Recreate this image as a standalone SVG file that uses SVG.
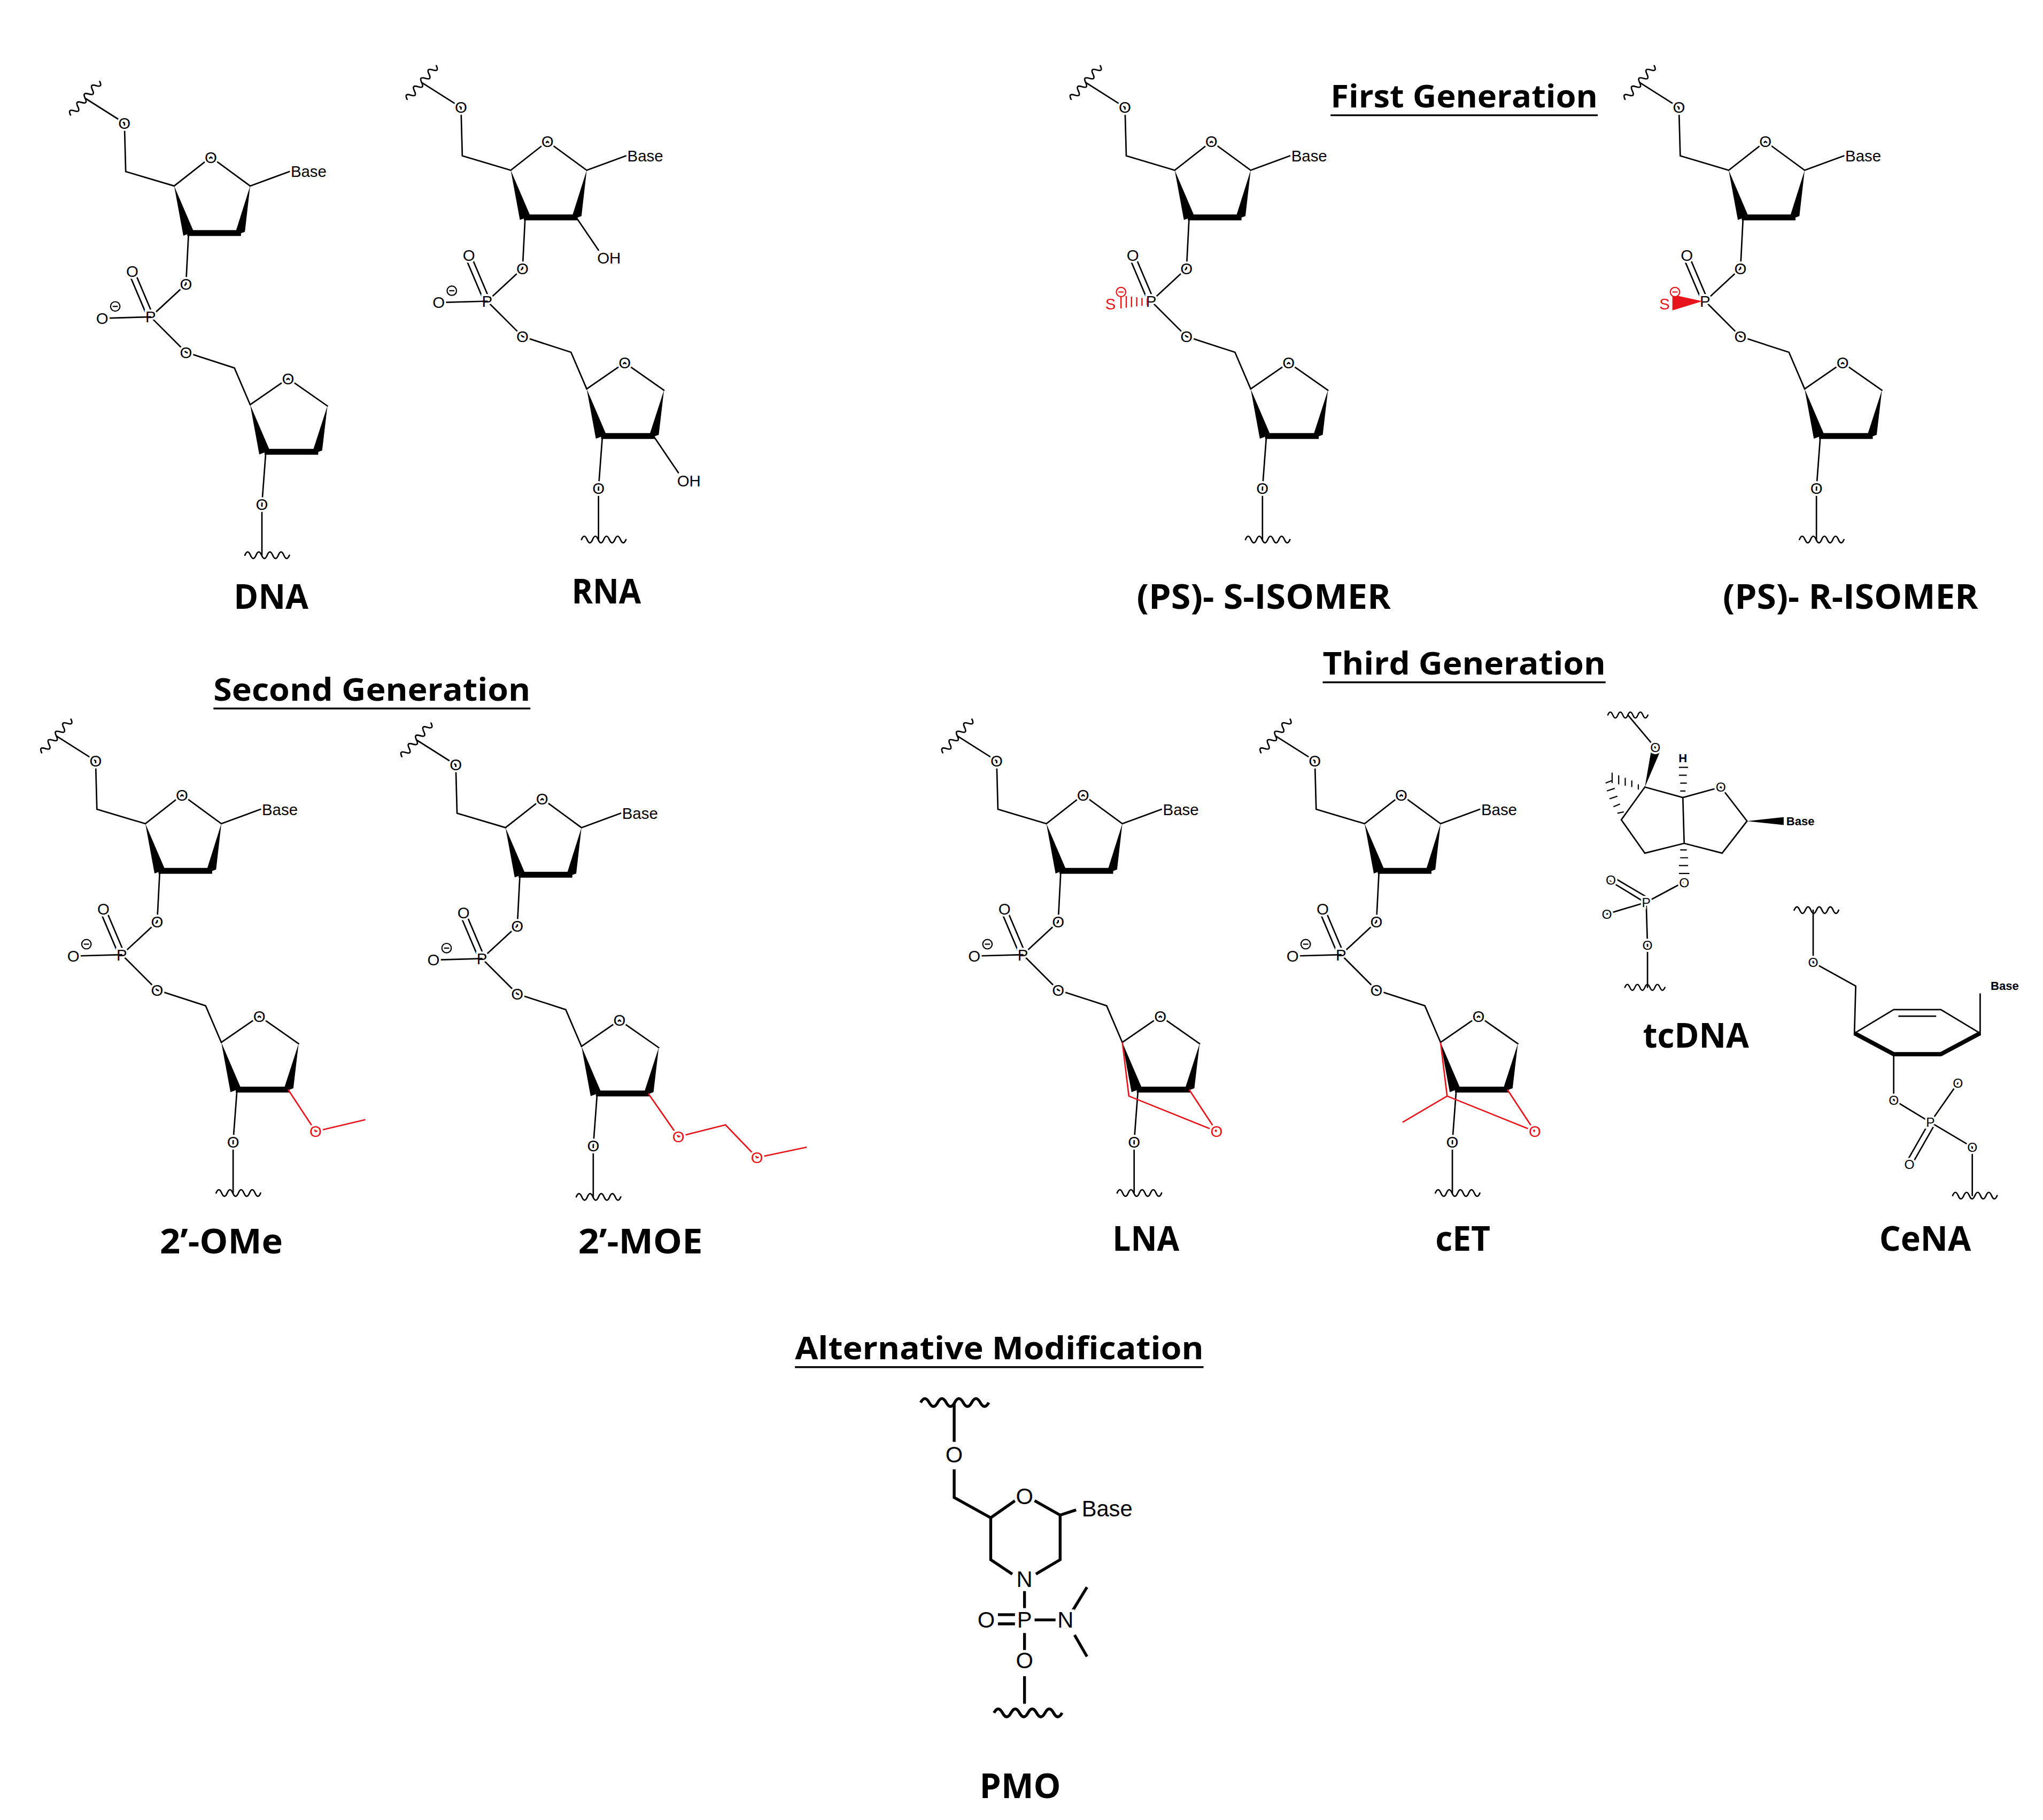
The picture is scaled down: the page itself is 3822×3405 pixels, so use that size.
<svg xmlns="http://www.w3.org/2000/svg" xmlns:xlink="http://www.w3.org/1999/xlink" width="3822" height="3405" viewBox="0 0 3822 3405">
<style>
.b{stroke:#000;stroke-width:1.1;fill:none;stroke-linecap:round}
.bb{stroke:#000;stroke-width:4.5;fill:none}
.w{fill:#000;stroke:none}
.r{stroke:#e8141b;stroke-width:1.1;fill:none}
.a{font-family:"Liberation Sans",Arial,sans-serif;font-size:12px;text-anchor:middle;dominant-baseline:central;fill:#000;stroke:#fff;stroke-width:3;paint-order:stroke}
.ar{fill:#e8141b}
.lb{font-family:"Open Sans","Liberation Sans",sans-serif;font-weight:bold;font-size:26px;text-anchor:middle;fill:#000}
.h{font-family:"Open Sans","Liberation Sans",sans-serif;font-weight:bold;font-size:24px;text-anchor:middle;fill:#000}
.u{stroke:#000;stroke-width:1.4}
.p{font-family:"Liberation Sans",Arial,sans-serif;font-size:17px;text-anchor:middle;dominant-baseline:central;fill:#000;stroke:#fff;stroke-width:4;paint-order:stroke}
.pb{stroke:#000;stroke-width:2.2;fill:none}
</style>
<defs>
<path id="wv" d="M-17,0 q2.1,-5 4.25,0 t4.25,0 t4.25,0 t4.25,0 t4.25,0 t4.25,0 t4.25,0 t4.25,0" class="b"/>
<g id="top">
<use xlink:href="#wv" transform="translate(65,75) rotate(-49)"/>
<path class="b" d="M65,75 L95,94 L96,131 L133,142 L161,120 L191,142 L221,131 M144,178 L142,217"/>
<polygon class="w" points="133,142 140,180 148,177"/>
<line class="bb" x1="143" y1="178" x2="184" y2="178"/>
<polygon class="w" points="179,180 187,177 191,142"/>
<text class="a" x="95" y="94">O</text><text class="a" x="161" y="120">O</text>
<text class="a" x="222" y="131" style="text-anchor:start">Base</text>
</g>
<g id="phos">
<path class="b" d="M142,217 L115,242 L142,269 L179,281 L191,309 M113,243 L99,210 M117,241 L103,208"/>
<text class="a" x="142" y="217">O</text><text class="a" x="115" y="242">P</text>
<text class="a" x="101" y="207">O</text><text class="a" x="142" y="269">O</text>
</g>
<g id="om">
<line class="b" x1="115" y1="242" x2="80" y2="243"/>
<text class="a" x="78" y="243">O</text>
<circle cx="88" cy="234" r="3.6" fill="#fff" stroke="#000" stroke-width="0.9"/><line x1="86" y1="234" x2="90" y2="234" stroke="#000" stroke-width="0.9"/>
</g>
<g id="bot">
<path class="b" d="M191,309 L220,289 L250,310 M203,345 L200,385 L200,424"/>
<polygon class="w" points="191,309 198,347 206,344"/>
<line class="bb" x1="202" y1="345" x2="243" y2="345"/>
<polygon class="w" points="238,347 246,344 250,310"/>
<use xlink:href="#wv" transform="translate(204,424)"/>
<text class="a" x="220" y="289">O</text><text class="a" x="200" y="385">O</text>
</g>
</defs>
<rect width="3822" height="3405" fill="#fff"/>
<g transform="scale(2.45)">
<g id="headers">
<text class="h" x="1118" y="82" textLength="204" lengthAdjust="spacingAndGlyphs">First Generation</text><line class="u" x1="1016" y1="88" x2="1220" y2="88"/>
<text class="h" x="284" y="535" textLength="242" lengthAdjust="spacingAndGlyphs">Second Generation</text><line class="u" x1="163" y1="541" x2="405" y2="541"/>
<text class="h" x="1118" y="515" textLength="216" lengthAdjust="spacingAndGlyphs">Third Generation</text><line class="u" x1="1010" y1="521" x2="1226" y2="521"/>
<text class="h" x="763" y="1038" textLength="312" lengthAdjust="spacingAndGlyphs">Alternative Modification</text><line class="u" x1="607" y1="1044" x2="919" y2="1044"/>
</g>
<g id="dna"><use xlink:href="#top"/><use xlink:href="#phos"/><use xlink:href="#om"/><use xlink:href="#bot"/>
<text class="lb" x="207" y="465" textLength="57" lengthAdjust="spacingAndGlyphs">DNA</text></g>
<g id="rna"><g transform="translate(257,-12)"><use xlink:href="#top"/><use xlink:href="#phos"/><use xlink:href="#om"/><use xlink:href="#bot"/>
<path class="b" d="M183,178 L200,203 M242,345 L261,373"/>
<text class="a" x="208" y="209">OH</text><text class="a" x="269" y="379">OH</text></g>
<text class="lb" x="463" y="461" textLength="53" lengthAdjust="spacingAndGlyphs">RNA</text></g>
<g id="ps-s"><g transform="translate(764,-12)"><use xlink:href="#top"/><use xlink:href="#phos"/><use xlink:href="#bot"/>
<path stroke="#e8141b" stroke-width="1" d="M112,240 L112,245 M108,239.5 L108,245.5 M104,239 L104,246 M100,238.5 L100,246.5 M96,238 L96,247 M92,237.5 L92,247.5"/>
<text class="a ar" x="84" y="244">S</text>
<circle cx="92" cy="235" r="3.6" fill="#fff" stroke="#e8141b" stroke-width="0.9"/><line x1="90" y1="235" x2="94" y2="235" stroke="#e8141b" stroke-width="0.9"/></g>
<text class="lb" x="965" y="465" textLength="194" lengthAdjust="spacingAndGlyphs">(PS)- S-ISOMER</text></g>
<g id="ps-r"><g transform="translate(1187,-12)"><use xlink:href="#top"/><use xlink:href="#phos"/><use xlink:href="#bot"/>
<polygon fill="#e8141b" points="113,242 90,237 90,249"/>
<text class="a ar" x="84" y="244">S</text>
<circle cx="92" cy="235" r="3.6" fill="#fff" stroke="#e8141b" stroke-width="0.9"/><line x1="90" y1="235" x2="94" y2="235" stroke="#e8141b" stroke-width="0.9"/></g>
<text class="lb" x="1413" y="465" textLength="195" lengthAdjust="spacingAndGlyphs">(PS)- R-ISOMER</text></g>
<g id="ome"><g transform="translate(-22,487)"><use xlink:href="#top"/><use xlink:href="#phos"/><use xlink:href="#om"/><use xlink:href="#bot"/>
<path class="r" d="M242,345 L263,377 L301,368"/><text class="a ar" x="263" y="377">O</text></g>
<text class="lb" x="169" y="957" textLength="94" lengthAdjust="spacingAndGlyphs">2’-OMe</text></g>
<g id="moe"><g transform="translate(253,490)"><use xlink:href="#top"/><use xlink:href="#phos"/><use xlink:href="#om"/><use xlink:href="#bot"/>
<path class="r" d="M242,345 L265,378 L301,369 L325,394 L363,386"/><text class="a ar" x="265" y="378">O</text><text class="a ar" x="325" y="394">O</text></g>
<text class="lb" x="489" y="957" textLength="95" lengthAdjust="spacingAndGlyphs">2’-MOE</text></g>
<g id="lna"><g transform="translate(666,487)"><use xlink:href="#top"/><use xlink:href="#phos"/><use xlink:href="#om"/><use xlink:href="#bot"/>
<path class="r" d="M191,309 L196,350 L263,377 M242,345 L263,377"/><text class="a ar" x="263" y="377">O</text></g>
<text class="lb" x="875" y="955" textLength="51" lengthAdjust="spacingAndGlyphs">LNA</text></g>
<g id="cet"><g transform="translate(909,487)"><use xlink:href="#top"/><use xlink:href="#phos"/><use xlink:href="#om"/><use xlink:href="#bot"/>
<path class="r" d="M191,309 L196,350 L263,377 M242,345 L263,377 M196,350 L162,370"/><text class="a ar" x="263" y="377">O</text></g>
<text class="lb" x="1117" y="955" textLength="42" lengthAdjust="spacingAndGlyphs">cET</text></g>
<g id="tcdna">
<use xlink:href="#wv" transform="translate(1243,546) scale(0.9)"/>
<path class="b" d="M1243,546 L1264,571 M1256,601 L1238,626 L1256,651.5 L1286,644 L1315,651.5 L1334,627 L1314,601 L1285,609 L1256,601 M1285,609 L1286,644 M1285,674 L1257,689 L1227,698 M1257,689 L1258,722 L1258,754 M1256,689 L1228,672 M1259,686 L1232,670"/>
<polygon class="w" points="1256,601 1261,572 1268,573"/>
<polygon class="w" points="1334,627 1362,624 1362,630"/>
<path stroke="#000" stroke-width="0.9" d="M1251,599 L1251,603 M1246,596 L1246,601 M1241,594 L1241,600 M1236,592 L1236,599 M1231,590 L1231,598 M1240,620 L1235,621 M1237,614 L1232,616 M1235,608 L1229,610 M1233,602 L1227,604 M1231,596 L1226,598 M1283,604 L1287,604 M1283,598 L1288,598 M1282,592 L1288,592 M1282,586 L1289,586 M1283,649 L1288,649 M1283,655 L1289,655 M1282,661 L1289,661 M1282,667 L1290,667"/>
<use xlink:href="#wv" transform="translate(1256,754) scale(0.9)"/>
<text class="a" x="1264" y="571" style="font-size:10px">O</text>
<text class="a" x="1285" y="579" style="font-size:9px;font-weight:bold">H</text>
<text class="a" x="1314" y="601" style="font-size:10px">O</text>
<text class="a" x="1364" y="627" style="font-size:9px;text-anchor:start;font-weight:bold">Base</text>
<text class="a" x="1286" y="674" style="font-size:10px">O</text>
<text class="a" x="1257" y="689" style="font-size:10px">P</text>
<text class="a" x="1230" y="672" style="font-size:10px">O</text>
<text class="a" x="1227" y="698" style="font-size:10px">O</text>
<text class="a" x="1258" y="722" style="font-size:10px">O</text>
<text class="lb" x="1295" y="800" textLength="81" lengthAdjust="spacingAndGlyphs">tcDNA</text>
</g>
<g id="cena">
<use xlink:href="#wv" transform="translate(1387,695)"/>
<path class="b" d="M1384.5,695 L1384.5,735 L1417,753 L1416,789 L1446,771 L1482,771 L1512,789 L1512,759 M1450,776 L1478,776 M1446,805 L1446,840 L1474,857 L1506,876 L1506,913 M1474,857 L1495,827 M1472,859 L1456,887 M1476,861 L1460,889"/>
<path stroke="#000" stroke-width="3.2" fill="none" stroke-linejoin="round" d="M1416,789 L1446,805 L1482,805 L1512,789"/>
<use xlink:href="#wv" transform="translate(1508,913)"/>
<text class="a" x="1384.5" y="735" style="font-size:10px">O</text>
<text class="a" x="1520" y="753" style="font-size:9px;text-anchor:start;font-weight:bold">Base</text>
<text class="a" x="1446" y="840" style="font-size:10px">O</text>
<text class="a" x="1474" y="857" style="font-size:10px">P</text>
<text class="a" x="1495" y="827" style="font-size:10px">O</text>
<text class="a" x="1458" y="889" style="font-size:10px">O</text>
<text class="a" x="1506" y="876" style="font-size:10px">O</text>
<text class="lb" x="1470" y="955" textLength="70" lengthAdjust="spacingAndGlyphs">CeNA</text>
</g>
<g id="pmo">
<path class="pb" d="M703,1071 q3.2,-6 6.5,0 t6.5,0 t6.5,0 t6.5,0 t6.5,0 t6.5,0 t6.5,0 t6.5,0"/>
<path class="pb" d="M728.6,1072 L728.6,1101 M728.6,1122 L728.6,1143.5 L756.5,1159 L775,1146 M790,1146 L809.5,1157 L821.7,1153 M809.5,1157 L809.5,1191 L791,1202 M773,1202 L756.5,1191 L756.5,1159 M782.3,1215 L782.3,1228 M782.3,1247 L782.3,1261 M782.3,1280 L782.3,1301 M762,1233 L775,1233 M762,1240 L775,1240 M790,1237 L806,1237 M819,1230 L830,1212 M820.5,1248.5 L830,1265"/>
<path class="pb" d="M759,1308 q3.2,-6 6.5,0 t6.5,0 t6.5,0 t6.5,0 t6.5,0 t6.5,0 t6.5,0 t6.5,0"/>
<text class="p" x="728.6" y="1111">O</text>
<text class="p" x="782.3" y="1142.5">O</text>
<text class="p" x="826" y="1152" style="text-anchor:start">Base</text>
<text class="p" x="782.3" y="1206">N</text>
<text class="p" x="782.3" y="1237">P</text>
<text class="p" x="753" y="1237">O</text>
<text class="p" x="813.6" y="1237">N</text>
<text class="p" x="782.3" y="1268">O</text>
<text class="lb" x="779" y="1373" textLength="62" lengthAdjust="spacingAndGlyphs">PMO</text>
</g>
</g>
</svg>
